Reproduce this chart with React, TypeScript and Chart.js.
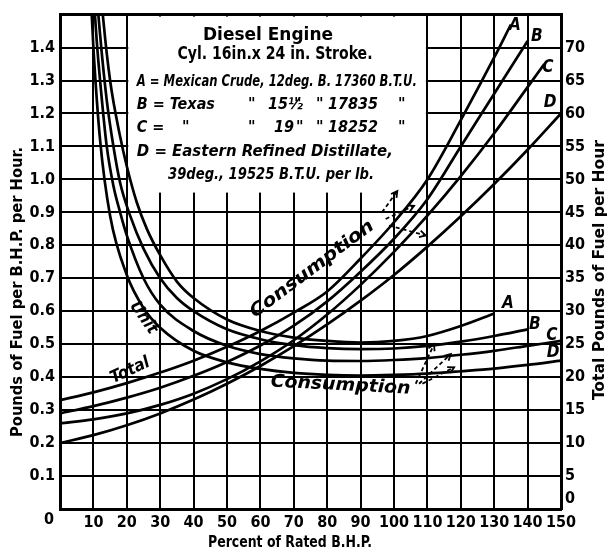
import React, { useEffect, useRef } from 'react';
import { Chart, registerables } from 'chart.js';

Chart.register(...registerables);

const FONT = '"Liberation Sans Narrow", "DejaVu Sans Condensed", "DejaVu Sans", sans-serif';

// Percent of rated B.H.P. (x) for the unit-consumption curves (lb per B.H.P. per hour, left axis)
const unitLoadA = [11.5, 12, 13, 15, 18, 20, 23, 26, 30, 35, 40, 50, 60, 70, 80, 90, 100, 110, 120, 130];
const unitA = [1.7, 1.6, 1.48, 1.3, 1.13, 1.04, 0.93, 0.85, 0.77, 0.69, 0.64, 0.575, 0.54, 0.52, 0.51, 0.505, 0.51, 0.525, 0.555, 0.593];
const unitLoadB = [10.5, 11, 12, 14, 16, 18, 21, 25, 30, 35, 40, 50, 60, 70, 80, 90, 100, 110, 120, 130, 140];
const unitB = [1.68, 1.57, 1.44, 1.24, 1.1, 0.99, 0.89, 0.79, 0.7, 0.64, 0.6, 0.545, 0.515, 0.497, 0.488, 0.485, 0.487, 0.495, 0.508, 0.525, 0.545];
const unitLoadC = [9.5, 10, 11, 12, 14, 16, 18, 20, 25, 30, 40, 50, 60, 70, 80, 90, 100, 110, 120, 130, 140, 150];
const unitC = [1.7, 1.58, 1.42, 1.3, 1.1, 0.98, 0.9, 0.83, 0.7, 0.62, 0.54, 0.495, 0.47, 0.457, 0.45, 0.449, 0.452, 0.458, 0.468, 0.48, 0.495, 0.51];
const unitLoadD = [8.5, 9, 10, 12, 15, 20, 25, 30, 40, 50, 60, 70, 80, 90, 100, 110, 120, 130, 140, 150];
const unitD = [1.72, 1.6, 1.4, 1.12, 0.89, 0.71, 0.61, 0.55, 0.48, 0.445, 0.425, 0.413, 0.407, 0.405, 0.407, 0.411, 0.418, 0.426, 0.437, 0.45];

// Total consumption curves (lb of fuel per hour, right axis)
const totalLoadA = [0, 10, 20, 30, 40, 50, 60, 70, 80, 90, 100, 110, 120, 130, 135];
const totalA = [16.5, 17.7, 19.1, 20.7, 22.5, 24.6, 27, 29.8, 33, 38, 43.5, 50, 59, 68.5, 73.5];
const totalLoadB = [0, 10, 20, 30, 40, 50, 60, 70, 80, 90, 100, 110, 120, 130, 140];
const totalB = [14.5, 15.6, 16.9, 18.4, 20.2, 22.3, 24.8, 27.8, 31.5, 36, 41, 47, 55, 63, 71];
const totalLoadC = [0, 10, 20, 30, 40, 50, 60, 70, 80, 90, 100, 110, 120, 130, 140, 145];
const totalC = [13, 13.6, 14.5, 15.8, 17.5, 19.7, 22.4, 25.6, 29.5, 34, 39, 44.5, 50.5, 57, 64, 67.5];
const totalLoadD = [0, 10, 20, 30, 40, 50, 60, 70, 80, 90, 100, 110, 120, 130, 140, 150];
const totalD = [10, 11.2, 12.7, 14.5, 16.6, 19, 21.7, 24.7, 28, 31.6, 35.5, 39.8, 44.4, 49.3, 54.5, 60];

const xTicksMax = 150;
const leftMax = 1.5;
const rightMax = 75;

const boxLines = [
  'Diesel Engine',
  'Cyl. 16in.x 24 in. Stroke.',
  'A = Mexican Crude, 12deg. B. 17360 B.T.U.',
  'D = Eastern Refined Distillate,',
  '39deg., 19525 B.T.U. per lb.',
];

function txt(ctx: CanvasRenderingContext2D, s: string, x: number, y: number, font: string, opts: any = {}) {
  ctx.save();
  ctx.font = font;
  ctx.fillStyle = '#000';
  ctx.textBaseline = 'middle';
  ctx.textAlign = opts.align || 'left';
  ctx.translate(x, y);
  if (opts.angle) ctx.rotate((opts.angle * Math.PI) / 180);
  if (opts.width) {
    const w = ctx.measureText(s).width;
    ctx.scale(opts.width / w, 1);
  }
  ctx.fillText(s, 0, 0);
  ctx.restore();
}

function dashedArrow(ctx: CanvasRenderingContext2D, x1: number, y1: number, x2: number, y2: number) {
  ctx.save();
  ctx.strokeStyle = '#000';
  ctx.lineWidth = 1.8;
  ctx.setLineDash([4, 3]);
  ctx.beginPath();
  ctx.moveTo(x1, y1);
  ctx.lineTo(x2, y2);
  ctx.stroke();
  ctx.setLineDash([]);
  const a = Math.atan2(y2 - y1, x2 - x1);
  ctx.beginPath();
  ctx.moveTo(x2 - 7 * Math.cos(a - 0.5), y2 - 7 * Math.sin(a - 0.5));
  ctx.lineTo(x2, y2);
  ctx.lineTo(x2 - 7 * Math.cos(a + 0.5), y2 - 7 * Math.sin(a + 0.5));
  ctx.stroke();
  ctx.restore();
}

export default function App() {
  const ref = useRef<HTMLCanvasElement>(null);

  useEffect(() => {
    const canvas = ref.current!;
    const pts = (xs: number[], ys: number[]) => xs.map((x, i) => ({ x, y: ys[i] }));
    const line = (label: string, xs: number[], ys: number[], axis: string) => ({
      label,
      data: pts(xs, ys),
      yAxisID: axis,
      borderColor: '#000',
      borderWidth: 2.7,
      pointRadius: 0,
      fill: false,
      cubicInterpolationMode: 'monotone' as const,
    });

    const annot = {
      id: 'annot',
      beforeDatasetsDraw(chart: any) {
        const { ctx, scales } = chart;
        const x = scales.x, y = scales.y;
        const l = x.getPixelForValue(20) + 1.5;
        const r = x.getPixelForValue(110) - 1.5;
        const t = y.getPixelForValue(1.5) + 2;
        const b = y.getPixelForValue(0.96);
        ctx.save();
        ctx.fillStyle = '#fff';
        ctx.fillRect(l, t, r - l, b - t);
        ctx.restore();
      },
      afterDatasetsDraw(chart: any) {
        const { ctx, scales, chartArea } = chart;
        const x = scales.x, y = scales.y, y2 = scales.y2;
        const X = (v: number) => x.getPixelForValue(v);
        const Y = (v: number) => y.getPixelForValue(v);
        const Y2 = (v: number) => y2.getPixelForValue(v);
        const bold = (s: number) => `bold ${s}px ${FONT}`;
        const ital = (s: number) => `italic bold ${s}px ${FONT}`;

        // box text
        const bl = X(20) + 10;
        const top = chartArea.top;
        txt(ctx, boxLines[0], 268, top + 21, bold(18), { align: 'center', width: 130 });
        txt(ctx, boxLines[1], 275, top + 40, bold(17), { align: 'center', width: 195 });
        txt(ctx, boxLines[2], bl, top + 67, ital(16), { width: 280 });
        const row = (yy: number, parts: [number, string][]) =>
          parts.forEach(([px, s]) => txt(ctx, s, px, yy, ital(16)));
        row(top + 90, [[bl, 'B = Texas'], [248, '"'], [268, '15½'], [294, '"'], [316, '"'], [328, '17835'], [398, '"']]);
        row(top + 113, [[bl, 'C ='], [182, '"'], [248, '"'], [274, '19'], [296, '"'], [316, '"'], [328, '18252'], [398, '"']]);
        txt(ctx, boxLines[3], bl, top + 137, ital(16), { width: 256 });
        txt(ctx, boxLines[4], 168, top + 160, ital(16), { width: 206 });

        // curve labels
        const lab = ital(17);
        txt(ctx, 'A', X(136.2), Y2(73.4), lab, { align: 'center' });
        txt(ctx, 'B', X(142.8), Y2(71.7), lab, { align: 'center' });
        txt(ctx, 'C', X(146.1), Y2(66.9), lab, { align: 'center' });
        txt(ctx, 'D', X(146.7), Y2(61.6), lab, { align: 'center' });
        txt(ctx, 'A', X(134.1), Y(0.622), lab, { align: 'center' });
        txt(ctx, 'B', X(142.2), Y(0.561), lab, { align: 'center' });
        txt(ctx, 'C', X(147.3), Y(0.525), lab, { align: 'center' });
        txt(ctx, 'D', X(147.6), Y(0.474), lab, { align: 'center' });

        // descriptive labels
        txt(ctx, 'Unit', X(25), Y(0.58), ital(17), { align: 'center', angle: 55 });
        txt(ctx, 'Total', X(21), Y(0.42), ital(17), { align: 'center', angle: -25 });
        txt(ctx, 'Consumption', X(75.5), Y(0.727), ital(18), { align: 'center', angle: -37, width: 150 });
        txt(ctx, 'Consumption', X(84), Y(0.375), ital(18), { align: 'center', angle: 3, width: 140 });

        // dashed pointers
        dashedArrow(ctx, X(96.4), Y(0.9), X(101), Y(0.965));
        dashedArrow(ctx, X(97.5), Y(0.88), X(106), Y(0.92));
        dashedArrow(ctx, X(98.5), Y(0.86), X(109.5), Y(0.83));
        dashedArrow(ctx, X(106.5), Y(0.38), X(112), Y(0.5));
        dashedArrow(ctx, X(107.5), Y(0.38), X(117), Y(0.47));
        dashedArrow(ctx, X(108.5), Y(0.38), X(118), Y(0.43));

        // extra zero labels
        txt(ctx, '0', X(0) - 11, chartArea.bottom + 11, bold(16), { align: 'center' });
        txt(ctx, '0', chartArea.right + 4, Y2(0) - 10, bold(16));

        // axis titles
        txt(ctx, 'Pounds of Fuel per B.H.P. per Hour.', 18, 292, bold(16), { align: 'center', angle: -90, width: 290 });
        txt(ctx, 'Total Pounds of Fuel per Hour', 600, 270, bold(16), { align: 'center', angle: -90, width: 260 });
        txt(ctx, 'Percent of Rated B.H.P.', 290, 543, bold(16), { align: 'center', width: 164 });
      },
    };

    const tickFont = { family: FONT, size: 16, weight: 'bold' as const };

    const chart = new Chart(canvas, {
      type: 'line',
      data: {
        datasets: [
          line('A unit', unitLoadA, unitA, 'y'),
          line('B unit', unitLoadB, unitB, 'y'),
          line('C unit', unitLoadC, unitC, 'y'),
          line('D unit', unitLoadD, unitD, 'y'),
          line('A total', totalLoadA, totalA, 'y2'),
          line('B total', totalLoadB, totalB, 'y2'),
          line('C total', totalLoadC, totalC, 'y2'),
          line('D total', totalLoadD, totalD, 'y2'),
        ],
      },
      options: {
        animation: false,
        responsive: false,
        devicePixelRatio: 1,
        layout: { padding: { top: 12, left: 0, right: 0, bottom: 0 } },
        plugins: { legend: { display: false }, tooltip: { enabled: false } },
        scales: {
          x: {
            type: 'linear',
            min: 0,
            max: xTicksMax,
            ticks: {
              stepSize: 10,
              autoSkip: false,
              maxRotation: 0,
              padding: 4,
              color: '#000',
              font: tickFont,
              callback: (v: any) => (v === 0 ? '' : String(v)),
            },
            grid: { color: '#000', lineWidth: 2, drawTicks: false },
            border: { display: true, color: '#000', width: 3 },
            afterFit: (s: any) => { s.height = 46; },
          },
          y: {
            position: 'left',
            min: 0,
            max: leftMax,
            ticks: {
              stepSize: 0.1,
              autoSkip: false,
              padding: 5,
              color: '#000',
              font: tickFont,
              callback: (v: any) => {
                const r = Math.round(v * 10) / 10;
                return r <= 0 || r >= 1.5 ? '' : r.toFixed(1);
              },
            },
            grid: {
              color: '#000',
              drawTicks: false,
              lineWidth: (c: any) => (c.tick && Math.abs(c.tick.value - 1.5) < 1e-6 ? 3 : 2),
            },
            border: { display: true, color: '#000', width: 3 },
            afterFit: (s: any) => { s.width = 60; },
          },
          y2: {
            position: 'right',
            min: 0,
            max: rightMax,
            ticks: {
              stepSize: 5,
              autoSkip: false,
              padding: 4,
              color: '#000',
              font: tickFont,
              callback: (v: any) => (v === 0 || v === 75 ? '' : String(v)),
            },
            grid: { display: false, drawTicks: false },
            border: { display: true, color: '#000', width: 3 },
            afterFit: (s: any) => { s.width = 50; },
          },
        },
      },
      plugins: [annot],
    } as any);

    return () => chart.destroy();
  }, []);

  return (
    <div style={{ position: 'fixed', left: 0, top: 0, width: 611, height: 555, background: '#fff' }}>
      <canvas ref={ref} width={611} height={555} style={{ display: 'block', width: 611, height: 555 }} />
    </div>
  );
}
